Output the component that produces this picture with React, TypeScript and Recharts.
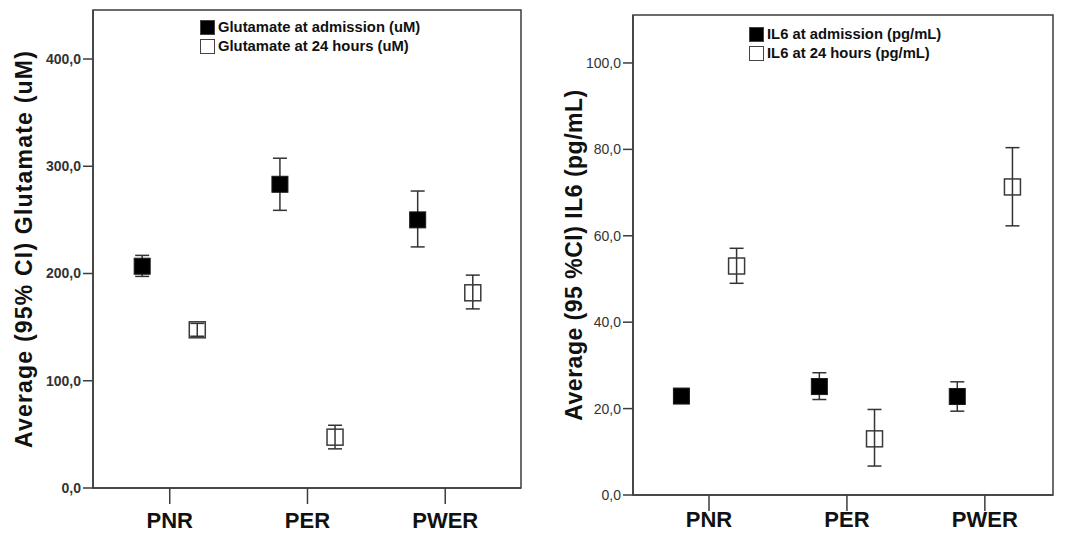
import React from 'react';
import { ScatterChart, Scatter, XAxis, YAxis, ErrorBar, ReferenceArea, Legend } from 'recharts';

const FONT = '"Liberation Sans", Arial, sans-serif';

const groups = ['PNR', 'PER', 'PWER'];

// Glutamate (uM): mean and 95% CI bounds per group
const gluAdmission = [206.8, 283.2, 250.0];
const gluAdmissionLow = [197.3, 258.9, 224.8];
const gluAdmissionHigh = [216.9, 307.5, 276.9];
const glu24h = [147.5, 47.4, 182.0];
const glu24hLow = [141.5, 36.5, 167.0];
const glu24hHigh = [153.5, 58.5, 198.5];
const gluTicks = [0, 100, 200, 300, 400];
const gluNames = ['Glutamate at admission (uM)', 'Glutamate at 24 hours (uM)'];

// IL6 (pg/mL): mean and 95% CI bounds per group
const il6Admission = [22.9, 25.1, 22.8];
const il6AdmissionLow = [22.4, 22.1, 19.4];
const il6AdmissionHigh = [23.4, 28.3, 26.2];
const il624h = [53.0, 13.0, 71.3];
const il624hLow = [49.0, 6.7, 62.3];
const il624hHigh = [57.1, 19.8, 80.4];
const il6Ticks = [0, 20, 40, 60, 80, 100];
const il6Names = ['IL6 at admission (pg/mL)', 'IL6 at 24 hours (pg/mL)'];

// admission points sit left of the group tick, 24h points right of it
const SHIFT = 0.2;

const toPoints = (mean: number[], low: number[], high: number[], shift: number) =>
  mean.map((m, i) => ({ x: i + shift, y: m, ci: [m - low[i], high[i] - m] }));

const FilledSquare = (props: any) => (
  <rect x={props.cx - 8} y={props.cy - 8} width={16} height={16} fill="#000" stroke="#1a1a1a" />
);

const OpenSquare = (props: any) => (
  <rect x={props.cx - 8} y={props.cy - 8} width={16} height={16} fill="none" stroke="#3a3a3a" strokeWidth={1.5} />
);

const SquareLegend = ({ names }: { names: string[] }) => (
  <div style={{ fontFamily: FONT, fontWeight: 700, fontSize: 14.8, lineHeight: '19px', color: '#111' }}>
    {names.map((n, i) => (
      <div key={n} style={{ display: 'flex', alignItems: 'center' }}>
        <span
          style={{
            display: 'inline-block',
            width: 13,
            height: 13,
            marginRight: 3,
            background: i === 0 ? '#000' : '#fff',
            border: '1px solid #444',
          }}
        />
        {n}
      </div>
    ))}
  </div>
);

const fmt = (v: number) => v.toFixed(1).replace('.', ',');

interface PanelProps {
  left: number;
  width: number;
  yAxisWidth: number;
  marginTop: number;
  marginRight: number;
  axisHeight: number;
  labelGap: number;
  xDomain: [number, number];
  yMax: number;
  ticks: number[];
  tickBold: boolean;
  yTitle: string;
  titleOffset: number;
  titleSpacing: number;
  names: string[];
  legendLeft: number;
  legendTop: number;
  admission: { x: number; y: number; ci: number[] }[];
  later: { x: number; y: number; ci: number[] }[];
}

const Panel = (p: PanelProps) => (
  <div style={{ position: 'absolute', left: p.left, top: 0 }}>
    <ScatterChart
      width={p.width}
      height={533}
      margin={{ top: p.marginTop, right: p.marginRight, left: 0, bottom: 0 }}
    >
      <XAxis
        dataKey="x"
        type="number"
        domain={p.xDomain}
        allowDataOverflow
        ticks={[0, 1, 2]}
        interval={0}
        tickFormatter={(v: number) => groups[Math.round(v)]}
        height={p.axisHeight}
        tickSize={16}
        tickMargin={p.labelGap}
        stroke="#3c3c3c"
        strokeWidth={1.5}
        tick={{ fontSize: 22, fontWeight: 700, fill: '#111', fontFamily: FONT }}
      />
      <YAxis
        dataKey="y"
        type="number"
        domain={[0, p.yMax]}
        allowDataOverflow
        ticks={p.ticks}
        interval={0}
        tickFormatter={fmt}
        width={p.yAxisWidth}
        tickSize={10}
        tickMargin={2}
        stroke="#3c3c3c"
        strokeWidth={1.5}
        tick={{ fontSize: 14, fontWeight: p.tickBold ? 700 : 400, fill: '#333', fontFamily: FONT }}
        label={{
          value: p.yTitle,
          angle: -90,
          position: 'insideLeft',
          offset: p.titleOffset,
          style: {
            textAnchor: 'middle',
            fontSize: 23,
            fontWeight: 700,
            fill: '#111',
            fontFamily: FONT,
            letterSpacing: p.titleSpacing,
          },
        }}
      />
      <ReferenceArea
        x1={p.xDomain[0]}
        x2={p.xDomain[1]}
        y1={0}
        y2={p.yMax}
        fill="none"
        stroke="#3c3c3c"
        strokeWidth={1.5}
      />
      <Legend
        layout="horizontal"
        verticalAlign="middle"
        align="center"
        wrapperStyle={{ left: p.legendLeft, top: p.legendTop, width: 'auto', height: 'auto' }}
        content={() => <SquareLegend names={p.names} />}
      />
      <Scatter name={p.names[0]} data={p.admission} shape={FilledSquare} isAnimationActive={false}>
        <ErrorBar dataKey="ci" direction="y" width={7} stroke="#333" strokeWidth={1.5} />
      </Scatter>
      <Scatter name={p.names[1]} data={p.later} shape={OpenSquare} isAnimationActive={false}>
        <ErrorBar dataKey="ci" direction="y" width={7} stroke="#333" strokeWidth={1.5} />
      </Scatter>
    </ScatterChart>
  </div>
);

export default function App() {
  return (
    <div style={{ position: 'absolute', left: 0, top: 0, width: 1071, height: 533, background: '#fff', overflow: 'hidden' }}>
      <Panel
        left={0}
        width={530}
        yAxisWidth={93}
        marginTop={10}
        marginRight={9}
        axisHeight={45}
        labelGap={8}
        xDomain={[-0.557, 2.55]}
        yMax={445.7}
        ticks={gluTicks}
        tickBold
        yTitle="Average (95% CI) Glutamate (uM)"
        titleOffset={24}
        titleSpacing={1.2}
        names={gluNames}
        legendLeft={200}
        legendTop={18}
        admission={toPoints(gluAdmission, gluAdmissionLow, gluAdmissionHigh, -SHIFT)}
        later={toPoints(glu24h, glu24hLow, glu24hHigh, SHIFT)}
      />
      <Panel
        left={530}
        width={541}
        yAxisWidth={103}
        marginTop={15}
        marginRight={18}
        axisHeight={38}
        labelGap={0}
        xDomain={[-0.551, 2.494]}
        yMax={111.1}
        ticks={il6Ticks}
        tickBold={false}
        yTitle="Average (95 %CI) IL6 (pg/mL)"
        titleOffset={44}
        titleSpacing={0.5}
        names={il6Names}
        legendLeft={219}
        legendTop={25}
        admission={toPoints(il6Admission, il6AdmissionLow, il6AdmissionHigh, -SHIFT)}
        later={toPoints(il624h, il624hLow, il624hHigh, SHIFT)}
      />
    </div>
  );
}
